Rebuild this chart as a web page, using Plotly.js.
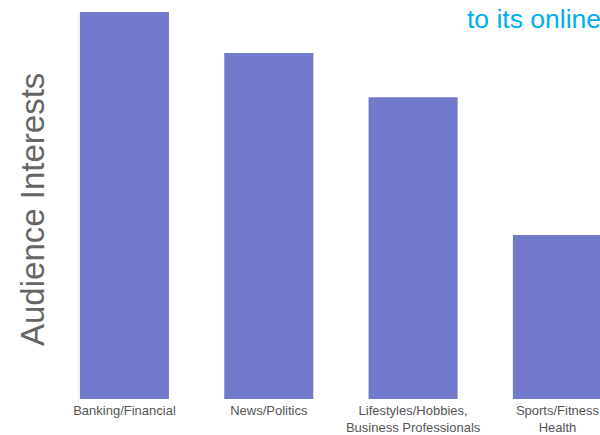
<!DOCTYPE html>
<html>
<head>
<meta charset="utf-8">
<script src="https://cdn.plot.ly/plotly-3.0.1.min.js"></script>
<style>html,body{margin:0;padding:0;background:#fff}#chart{width:600px;height:435px}</style>
</head>
<body>
<div id="chart"></div>
<script>
const categories = ["Banking/Financial", "News/Politics", "Lifestyles/Hobbies,<br>Business Professionals", "Sports/Fitness<br>Health"];
const values = [100, 89.4, 78, 42.4];
const titleText = "to its online";
const yTitle = "Audience Interests";

const L = 79, R = 600, T = 12, B = 399;
const W = 600, H = 435;
const trace = {
  type: "bar",
  x: categories,
  y: values,
  marker: {color: "#737ACB"},
  hoverinfo: "none"
};
const layout = {
  width: W, height: H,
  margin: {l: L, r: W - R, t: T, b: H - B, pad: 0},
  paper_bgcolor: "#fff", plot_bgcolor: "#fff",
  bargap: 0.383,
  showlegend: false,
  xaxis: {
    range: [-0.315, 3.295],
    showgrid: false, zeroline: false, showline: false, ticks: "",
    ticklabelstandoff: 2,
    tickfont: {family: "Liberation Sans, Arial, sans-serif", size: 13, color: "#555"}
  },
  yaxis: {
    range: [0, 100],
    showgrid: false, zeroline: false, showticklabels: false, ticks: "",
    showline: true, linecolor: "#eeeeee", linewidth: 1
  },
  annotations: [
    {
      text: titleText, xref: "paper", yref: "paper",
      x: (465 - L) / (R - L), y: 1 + (T - 2) / (B - T),
      xanchor: "left", yanchor: "top", showarrow: false,
      font: {family: "Liberation Sans, Arial, sans-serif", size: 26.5, color: "#00AEEF"}
    },
    {
      text: yTitle, xref: "paper", yref: "paper",
      x: (32 - L) / (R - L), y: (B - 210) / (B - T),
      xanchor: "center", yanchor: "middle", textangle: -90, showarrow: false,
      font: {family: "Liberation Sans, Arial, sans-serif", size: 33, color: "#666"}
    }
  ]
};
Plotly.newPlot("chart", [trace], layout, {displayModeBar: false, staticPlot: true});
</script>
</body>
</html>
